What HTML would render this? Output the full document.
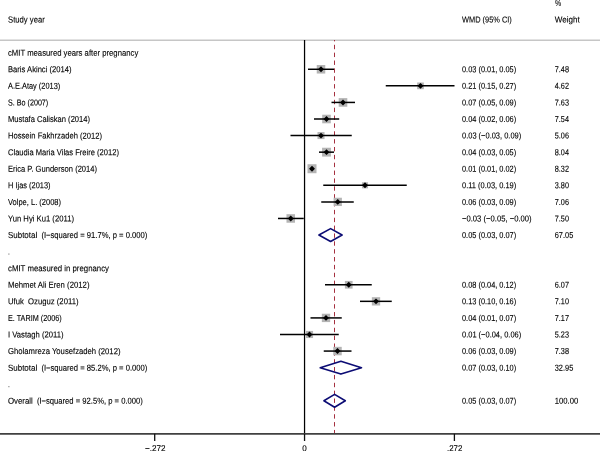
<!DOCTYPE html>
<html><head><meta charset="utf-8">
<title>Forest plot</title>
<style>
html,body{margin:0;padding:0;background:#fff;}
svg{display:block;}
text{text-rendering:geometricPrecision;font-family:"Liberation Sans",sans-serif;font-size:8.7px;fill:#000;stroke:#000;stroke-width:0.12px;}
</style></head><body>
<svg width="600" height="451" viewBox="0 0 600 451">
<rect width="600" height="451" fill="#fff"/>
<g shape-rendering="geometricPrecision">
<line x1="0" y1="40.25" x2="600" y2="40.25" stroke="#c6c6c6" stroke-width="1.3"/>
<line x1="304.55" y1="40" x2="304.55" y2="433.8" stroke="#000" stroke-width="1.25"/>
<line x1="334.5" y1="40" x2="334.5" y2="433.5" stroke="#a02535" stroke-width="0.95" stroke-dasharray="4.4 3.46" stroke-dashoffset="3.05"/>
<line x1="0" y1="433.8" x2="600" y2="433.8" stroke="#404040" stroke-width="1.7"/>
<line x1="154.7" y1="433.8" x2="154.7" y2="441" stroke="#111" stroke-width="1.3"/>
<line x1="304.55" y1="433.8" x2="304.55" y2="441" stroke="#111" stroke-width="1.3"/>
<line x1="454.4" y1="433.8" x2="454.4" y2="441" stroke="#111" stroke-width="1.3"/>
<rect x="316.74" y="65.01" width="8.53" height="8.53" fill="#b4b4b4"/>
<line x1="308" y1="69.28" x2="334" y2="69.28" stroke="#000" stroke-width="1.5"/>
<path d="M318.05 69.28L321 66.33L323.95 69.28L321 72.23Z" fill="#000"/>
<rect x="417.14" y="82.50" width="6.71" height="6.71" fill="#b4b4b4"/>
<line x1="385.75" y1="85.85" x2="454.5" y2="85.85" stroke="#000" stroke-width="1.5"/>
<path d="M417.55 85.85L420.5 82.90L423.45 85.85L420.5 88.80Z" fill="#000"/>
<rect x="338.69" y="98.12" width="8.62" height="8.62" fill="#b4b4b4"/>
<line x1="331.5" y1="102.43" x2="355" y2="102.43" stroke="#000" stroke-width="1.5"/>
<path d="M340.05 102.43L343 99.48L345.95 102.43L343 105.38Z" fill="#000"/>
<rect x="322.21" y="114.72" width="8.57" height="8.57" fill="#b4b4b4"/>
<line x1="314" y1="119.00" x2="339.2" y2="119.00" stroke="#000" stroke-width="1.5"/>
<path d="M323.55 119.00L326.5 116.05L329.45 119.00L326.5 121.95Z" fill="#000"/>
<rect x="317.49" y="132.07" width="7.02" height="7.02" fill="#b4b4b4"/>
<line x1="290.5" y1="135.58" x2="351.75" y2="135.58" stroke="#000" stroke-width="1.5"/>
<path d="M318.05 135.58L321 132.63L323.95 135.58L321 138.53Z" fill="#000"/>
<rect x="322.07" y="147.73" width="8.85" height="8.85" fill="#b4b4b4"/>
<line x1="319" y1="152.16" x2="334" y2="152.16" stroke="#000" stroke-width="1.5"/>
<path d="M323.55 152.16L326.5 149.21L329.45 152.16L326.5 155.11Z" fill="#000"/>
<rect x="307.50" y="164.23" width="9.0" height="9.0" fill="#b4b4b4"/>
<line x1="310.4" y1="168.73" x2="313.6" y2="168.73" stroke="#000" stroke-width="1.5"/>
<path d="M309.05 168.73L312 165.78L314.95 168.73L312 171.68Z" fill="#000"/>
<rect x="361.96" y="182.27" width="6.08" height="6.08" fill="#b4b4b4"/>
<line x1="323.25" y1="185.31" x2="406.75" y2="185.31" stroke="#000" stroke-width="1.5"/>
<path d="M362.05 185.31L365 182.36L367.95 185.31L365 188.26Z" fill="#000"/>
<rect x="333.61" y="197.74" width="8.29" height="8.29" fill="#b4b4b4"/>
<line x1="321.25" y1="201.88" x2="353.75" y2="201.88" stroke="#000" stroke-width="1.5"/>
<path d="M334.8 201.88L337.75 198.93L340.7 201.88L337.75 204.83Z" fill="#000"/>
<rect x="286.48" y="214.19" width="8.54" height="8.54" fill="#b4b4b4"/>
<line x1="278" y1="218.46" x2="303.75" y2="218.46" stroke="#000" stroke-width="1.5"/>
<path d="M287.8 218.46L290.75 215.51L293.7 218.46L290.75 221.41Z" fill="#000"/>
<rect x="344.90" y="280.92" width="7.69" height="7.69" fill="#b4b4b4"/>
<line x1="325" y1="284.76" x2="371.75" y2="284.76" stroke="#000" stroke-width="1.5"/>
<path d="M345.8 284.76L348.75 281.81L351.7 284.76L348.75 287.71Z" fill="#000"/>
<rect x="371.85" y="297.19" width="8.31" height="8.31" fill="#b4b4b4"/>
<line x1="360" y1="301.34" x2="391.75" y2="301.34" stroke="#000" stroke-width="1.5"/>
<path d="M373.05 301.34L376 298.39L378.95 301.34L376 304.29Z" fill="#000"/>
<rect x="321.82" y="313.74" width="8.35" height="8.35" fill="#b4b4b4"/>
<line x1="310.5" y1="317.92" x2="341.75" y2="317.92" stroke="#000" stroke-width="1.5"/>
<path d="M323.05 317.92L326 314.97L328.95 317.92L326 320.87Z" fill="#000"/>
<rect x="305.93" y="330.92" width="7.14" height="7.14" fill="#b4b4b4"/>
<line x1="280" y1="334.49" x2="338.75" y2="334.49" stroke="#000" stroke-width="1.5"/>
<path d="M306.55 334.49L309.5 331.54L312.45 334.49L309.5 337.44Z" fill="#000"/>
<rect x="333.26" y="346.83" width="8.48" height="8.48" fill="#b4b4b4"/>
<line x1="323.75" y1="351.07" x2="351.5" y2="351.07" stroke="#000" stroke-width="1.5"/>
<path d="M334.55 351.07L337.5 348.12L340.45 351.07L337.5 354.02Z" fill="#000"/>
<path d="M318.90 235.04L330.6 228.59L342.10 235.04L330.6 241.49Z" fill="none" stroke="#0c0c74" stroke-width="1.6" stroke-linejoin="round"/>
<path d="M320.20 367.64L340.9 361.19L361.50 367.64L340.9 374.09Z" fill="none" stroke="#0c0c74" stroke-width="1.6" stroke-linejoin="round"/>
<path d="M323.90 400.80L334.6 394.35L345.30 400.80L334.6 407.25Z" fill="none" stroke="#0c0c74" stroke-width="1.6" stroke-linejoin="round"/>
<rect x="8.4" y="253.51" width="1.0" height="1.1" fill="#6a6a6a"/>
<rect x="8.4" y="386.12" width="1.0" height="1.1" fill="#6a6a6a"/>
</g>
<g style="filter:grayscale(1)">
<text x="8" y="22.50" textLength="36.75" lengthAdjust="spacingAndGlyphs" transform="rotate(0.04 8 22.50)" xml:space="preserve">Study year</text>
<text x="462" y="22.50" textLength="49.75" lengthAdjust="spacingAndGlyphs" transform="rotate(0.04 462 22.50)" xml:space="preserve">WMD (95% CI)</text>
<text x="554.75" y="22.50" textLength="25" lengthAdjust="spacingAndGlyphs" transform="rotate(0.04 554.75 22.50)" xml:space="preserve">Weight</text>
<text x="555" y="6.00" textLength="6.2" lengthAdjust="spacingAndGlyphs" transform="rotate(0.04 555 6.00)" xml:space="preserve">%</text>
<text x="8" y="55.70" textLength="130.25" lengthAdjust="spacingAndGlyphs" transform="rotate(0.04 8 55.70)" xml:space="preserve">cMIT measured years after pregnancy</text>
<text x="8" y="271.19" textLength="101" lengthAdjust="spacingAndGlyphs" transform="rotate(0.04 8 271.19)" xml:space="preserve">cMIT measured in pregnancy</text>
<text x="8" y="72.28" textLength="63.5" lengthAdjust="spacingAndGlyphs" transform="rotate(0.04 8 72.28)" xml:space="preserve">Baris Akinci (2014)</text>
<text x="462" y="72.28" textLength="54.2" lengthAdjust="spacingAndGlyphs" transform="rotate(0.04 462 72.28)" xml:space="preserve">0.03 (0.01, 0.05)</text>
<text x="554.75" y="72.28" textLength="14.2" lengthAdjust="spacingAndGlyphs" transform="rotate(0.04 554.75 72.28)" xml:space="preserve">7.48</text>
<text x="8" y="88.85" textLength="52.25" lengthAdjust="spacingAndGlyphs" transform="rotate(0.04 8 88.85)" xml:space="preserve">A.E.Atay (2013)</text>
<text x="462" y="88.85" textLength="54.2" lengthAdjust="spacingAndGlyphs" transform="rotate(0.04 462 88.85)" xml:space="preserve">0.21 (0.15, 0.27)</text>
<text x="554.75" y="88.85" textLength="14.2" lengthAdjust="spacingAndGlyphs" transform="rotate(0.04 554.75 88.85)" xml:space="preserve">4.62</text>
<text x="8" y="105.43" textLength="40.25" lengthAdjust="spacingAndGlyphs" transform="rotate(0.04 8 105.43)" xml:space="preserve">S. Bo (2007)</text>
<text x="462" y="105.43" textLength="54.2" lengthAdjust="spacingAndGlyphs" transform="rotate(0.04 462 105.43)" xml:space="preserve">0.07 (0.05, 0.09)</text>
<text x="554.75" y="105.43" textLength="14.2" lengthAdjust="spacingAndGlyphs" transform="rotate(0.04 554.75 105.43)" xml:space="preserve">7.63</text>
<text x="8" y="122.00" textLength="82" lengthAdjust="spacingAndGlyphs" transform="rotate(0.04 8 122.00)" xml:space="preserve">Mustafa Caliskan (2014)</text>
<text x="462" y="122.00" textLength="54.2" lengthAdjust="spacingAndGlyphs" transform="rotate(0.04 462 122.00)" xml:space="preserve">0.04 (0.02, 0.06)</text>
<text x="554.75" y="122.00" textLength="14.2" lengthAdjust="spacingAndGlyphs" transform="rotate(0.04 554.75 122.00)" xml:space="preserve">7.54</text>
<text x="8" y="138.58" textLength="94" lengthAdjust="spacingAndGlyphs" transform="rotate(0.04 8 138.58)" xml:space="preserve">Hossein Fakhrzadeh (2012)</text>
<text x="462" y="138.58" textLength="59.2" lengthAdjust="spacingAndGlyphs" transform="rotate(0.04 462 138.58)" xml:space="preserve">0.03 (−0.03, 0.09)</text>
<text x="554.75" y="138.58" textLength="14.2" lengthAdjust="spacingAndGlyphs" transform="rotate(0.04 554.75 138.58)" xml:space="preserve">5.06</text>
<text x="8" y="155.16" textLength="111" lengthAdjust="spacingAndGlyphs" transform="rotate(0.04 8 155.16)" xml:space="preserve">Claudia Maria Vilas Freire (2012)</text>
<text x="462" y="155.16" textLength="54.2" lengthAdjust="spacingAndGlyphs" transform="rotate(0.04 462 155.16)" xml:space="preserve">0.04 (0.03, 0.05)</text>
<text x="554.75" y="155.16" textLength="14.2" lengthAdjust="spacingAndGlyphs" transform="rotate(0.04 554.75 155.16)" xml:space="preserve">8.04</text>
<text x="8" y="171.73" textLength="89" lengthAdjust="spacingAndGlyphs" transform="rotate(0.04 8 171.73)" xml:space="preserve">Erica P. Gunderson (2014)</text>
<text x="462" y="171.73" textLength="54.2" lengthAdjust="spacingAndGlyphs" transform="rotate(0.04 462 171.73)" xml:space="preserve">0.01 (0.01, 0.02)</text>
<text x="554.75" y="171.73" textLength="14.2" lengthAdjust="spacingAndGlyphs" transform="rotate(0.04 554.75 171.73)" xml:space="preserve">8.32</text>
<text x="8" y="188.31" textLength="42.5" lengthAdjust="spacingAndGlyphs" transform="rotate(0.04 8 188.31)" xml:space="preserve">H Ijas (2013)</text>
<text x="462" y="188.31" textLength="54.2" lengthAdjust="spacingAndGlyphs" transform="rotate(0.04 462 188.31)" xml:space="preserve">0.11 (0.03, 0.19)</text>
<text x="554.75" y="188.31" textLength="14.2" lengthAdjust="spacingAndGlyphs" transform="rotate(0.04 554.75 188.31)" xml:space="preserve">3.80</text>
<text x="8" y="204.88" textLength="53" lengthAdjust="spacingAndGlyphs" transform="rotate(0.04 8 204.88)" xml:space="preserve">Volpe, L. (2008)</text>
<text x="462" y="204.88" textLength="54.2" lengthAdjust="spacingAndGlyphs" transform="rotate(0.04 462 204.88)" xml:space="preserve">0.06 (0.03, 0.09)</text>
<text x="554.75" y="204.88" textLength="14.2" lengthAdjust="spacingAndGlyphs" transform="rotate(0.04 554.75 204.88)" xml:space="preserve">7.06</text>
<text x="8" y="221.46" textLength="66" lengthAdjust="spacingAndGlyphs" transform="rotate(0.04 8 221.46)" xml:space="preserve">Yun Hyi Ku1 (2011)</text>
<text x="462" y="221.46" textLength="69.6" lengthAdjust="spacingAndGlyphs" transform="rotate(0.04 462 221.46)" xml:space="preserve">−0.03 (−0.05, −0.00)</text>
<text x="554.75" y="221.46" textLength="14.2" lengthAdjust="spacingAndGlyphs" transform="rotate(0.04 554.75 221.46)" xml:space="preserve">7.50</text>
<text x="8" y="287.76" textLength="81.5" lengthAdjust="spacingAndGlyphs" transform="rotate(0.04 8 287.76)" xml:space="preserve">Mehmet Ali Eren (2012)</text>
<text x="462" y="287.76" textLength="54.2" lengthAdjust="spacingAndGlyphs" transform="rotate(0.04 462 287.76)" xml:space="preserve">0.08 (0.04, 0.12)</text>
<text x="554.75" y="287.76" textLength="14.2" lengthAdjust="spacingAndGlyphs" transform="rotate(0.04 554.75 287.76)" xml:space="preserve">6.07</text>
<text x="8" y="304.34" textLength="70.5" lengthAdjust="spacingAndGlyphs" transform="rotate(0.04 8 304.34)" xml:space="preserve">Ufuk  Ozuguz (2011)</text>
<text x="462" y="304.34" textLength="54.2" lengthAdjust="spacingAndGlyphs" transform="rotate(0.04 462 304.34)" xml:space="preserve">0.13 (0.10, 0.16)</text>
<text x="554.75" y="304.34" textLength="14.2" lengthAdjust="spacingAndGlyphs" transform="rotate(0.04 554.75 304.34)" xml:space="preserve">7.10</text>
<text x="8" y="320.92" textLength="53.7" lengthAdjust="spacingAndGlyphs" transform="rotate(0.04 8 320.92)" xml:space="preserve">E. TARIM (2006)</text>
<text x="462" y="320.92" textLength="54.2" lengthAdjust="spacingAndGlyphs" transform="rotate(0.04 462 320.92)" xml:space="preserve">0.04 (0.01, 0.07)</text>
<text x="554.75" y="320.92" textLength="14.2" lengthAdjust="spacingAndGlyphs" transform="rotate(0.04 554.75 320.92)" xml:space="preserve">7.17</text>
<text x="8" y="337.49" textLength="55.5" lengthAdjust="spacingAndGlyphs" transform="rotate(0.04 8 337.49)" xml:space="preserve">I Vastagh (2011)</text>
<text x="462" y="337.49" textLength="59.2" lengthAdjust="spacingAndGlyphs" transform="rotate(0.04 462 337.49)" xml:space="preserve">0.01 (−0.04, 0.06)</text>
<text x="554.75" y="337.49" textLength="14.2" lengthAdjust="spacingAndGlyphs" transform="rotate(0.04 554.75 337.49)" xml:space="preserve">5.23</text>
<text x="8" y="354.07" textLength="112.5" lengthAdjust="spacingAndGlyphs" transform="rotate(0.04 8 354.07)" xml:space="preserve">Gholamreza Yousefzadeh (2012)</text>
<text x="462" y="354.07" textLength="54.2" lengthAdjust="spacingAndGlyphs" transform="rotate(0.04 462 354.07)" xml:space="preserve">0.06 (0.03, 0.09)</text>
<text x="554.75" y="354.07" textLength="14.2" lengthAdjust="spacingAndGlyphs" transform="rotate(0.04 554.75 354.07)" xml:space="preserve">7.38</text>
<text x="8" y="238.04" textLength="29.2" lengthAdjust="spacingAndGlyphs" transform="rotate(0.04 8 238.04)" xml:space="preserve">Subtotal</text>
<text x="41.4" y="238.04" textLength="105.9" lengthAdjust="spacingAndGlyphs" transform="rotate(0.04 41.4 238.04)" xml:space="preserve">(I−squared = 91.7%, p = 0.000)</text>
<text x="462" y="238.04" textLength="54.2" lengthAdjust="spacingAndGlyphs" transform="rotate(0.04 462 238.04)" xml:space="preserve">0.05 (0.03, 0.07)</text>
<text x="554.75" y="238.04" textLength="18.5" lengthAdjust="spacingAndGlyphs" transform="rotate(0.04 554.75 238.04)" xml:space="preserve">67.05</text>
<text x="8" y="370.64" textLength="29.2" lengthAdjust="spacingAndGlyphs" transform="rotate(0.04 8 370.64)" xml:space="preserve">Subtotal</text>
<text x="41.4" y="370.64" textLength="105.9" lengthAdjust="spacingAndGlyphs" transform="rotate(0.04 41.4 370.64)" xml:space="preserve">(I−squared = 85.2%, p = 0.000)</text>
<text x="462" y="370.64" textLength="54.2" lengthAdjust="spacingAndGlyphs" transform="rotate(0.04 462 370.64)" xml:space="preserve">0.07 (0.03, 0.10)</text>
<text x="554.75" y="370.64" textLength="18.5" lengthAdjust="spacingAndGlyphs" transform="rotate(0.04 554.75 370.64)" xml:space="preserve">32.95</text>
<text x="8" y="403.80" textLength="24.8" lengthAdjust="spacingAndGlyphs" transform="rotate(0.04 8 403.80)" xml:space="preserve">Overall</text>
<text x="36.9" y="403.80" textLength="105.9" lengthAdjust="spacingAndGlyphs" transform="rotate(0.04 36.9 403.80)" xml:space="preserve">(I−squared = 92.5%, p = 0.000)</text>
<text x="462" y="403.80" textLength="54.2" lengthAdjust="spacingAndGlyphs" transform="rotate(0.04 462 403.80)" xml:space="preserve">0.05 (0.03, 0.07)</text>
<text x="554.75" y="403.80" textLength="23.5" lengthAdjust="spacingAndGlyphs" transform="rotate(0.04 554.75 403.80)" xml:space="preserve">100.00</text>
<text x="155.3" y="451.20" textLength="20.6" lengthAdjust="spacingAndGlyphs" text-anchor="middle" transform="rotate(0.04 155.3 451.20)" xml:space="preserve">−.272</text>
<text x="304.6" y="451.20" textLength="4.5" lengthAdjust="spacingAndGlyphs" text-anchor="middle" transform="rotate(0.04 304.6 451.20)" xml:space="preserve">0</text>
<text x="454.7" y="451.20" textLength="15.3" lengthAdjust="spacingAndGlyphs" text-anchor="middle" transform="rotate(0.04 454.7 451.20)" xml:space="preserve">.272</text>
</g>
</svg>
</body></html>
